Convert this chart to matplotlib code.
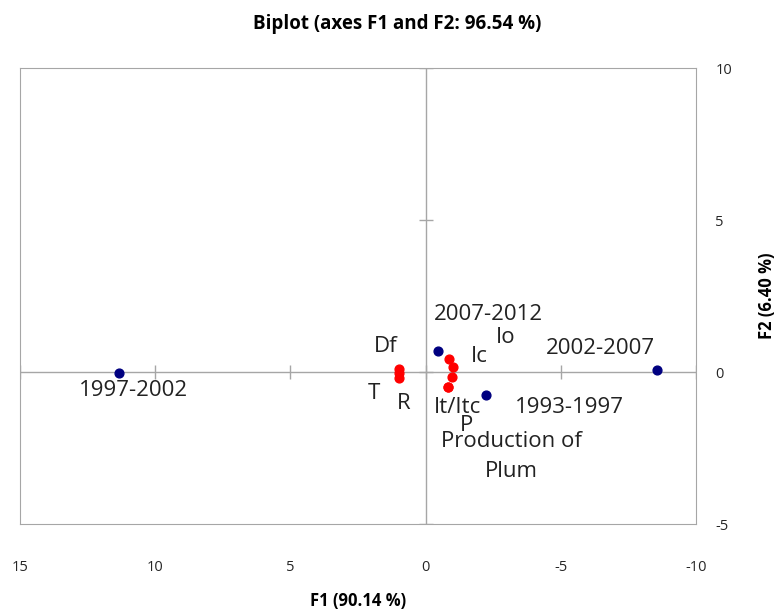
import matplotlib.pyplot as plt

# observações (anos) - pontos azuis
anos = ['1997-2002', '2007-2012', '2002-2007', '1993-1997']
anos_f1 = [11.34, -0.46, -8.56, -2.23]
anos_f2 = [-0.03, 0.69, 0.07, -0.76]

# variáveis - pontos vermelhos
variaveis = ['Df', 'T', 'R', 'Io', 'Ic', 'It/Itc', 'P', 'Production of\nPlum']
var_f1 = [0.98, 0.98, 0.98, -0.87, -1.0, -0.98, -0.82, -0.82]
var_f2 = [0.11, -0.02, -0.20, 0.44, 0.15, -0.17, -0.48, -0.48]

xticks = [15, 10, 5, 0, -5, -10]
yticks = [-5, 0, 5, 10]

# deslocamento dos rótulos (pixels)
desloc_anos = [(15, -18), (50, 37), (-57, 21), (84, -12)]
desloc_var = [(-13, 22), (-25, -21), (5, -25), (57, 21), (27, 11), (5, -30), (19, -39), (64, -70)]

plt.rcParams['font.family'] = ['Open Sans', 'DejaVu Sans']
cinza = '#a6a6a6'

fig = plt.figure(figsize=(7.76, 6.09), dpi=100)
ax = fig.add_axes([20 / 776, 85 / 609, 676 / 776, 456 / 609])

ax.set_xlim(15, -10)
ax.set_ylim(-5, 10)

ax.axhline(0, color=cinza, lw=1, zorder=1)
ax.axvline(0, color=cinza, lw=1, zorder=1)
ax.plot(xticks, [0] * len(xticks), ls='none', marker='|', ms=10, mew=1, color=cinza, zorder=1)
ax.plot([0] * len(yticks), yticks, ls='none', marker='_', ms=10, mew=1, color=cinza, zorder=1)

for s in ax.spines.values():
    s.set_color(cinza)

ax.scatter(anos_f1, anos_f2, s=40, color='#000080', zorder=3)
ax.scatter(var_f1, var_f2, s=40, color='#ff0000', zorder=3)

for nome, x, y, d in zip(anos, anos_f1, anos_f2, desloc_anos):
    ax.annotate(nome, (x, y), xytext=d, textcoords='offset pixels',
                ha='center', va='center', fontsize=16, color='#222222')
for nome, x, y, d in zip(variaveis, var_f1, var_f2, desloc_var):
    ax.annotate(nome, (x, y), xytext=d, textcoords='offset pixels',
                ha='center', va='center', fontsize=16, color='#222222', linespacing=1.55)

ax.set_xticks(xticks)
ax.set_xticklabels([str(t) for t in xticks])
ax.yaxis.tick_right()
ax.set_yticks(yticks)
ax.set_yticklabels([str(t) for t in yticks])
ax.tick_params(axis='x', length=0, pad=26, labelsize=10.5, colors='#262626')
ax.tick_params(axis='y', length=0, pad=14, labelsize=10.5, colors='#262626')

fig.text(397 / 776, 1 - 24 / 609, 'Biplot (axes F1 and F2: 96.54 %)', ha='center', va='center',
         fontsize=13.5, fontweight='bold')
fig.text(358 / 776, 1 - 601 / 609, 'F1 (90.14 %)', ha='center', va='center',
         fontsize=12, fontweight='bold')
fig.text(767 / 776, 1 - 296 / 609, 'F2 (6.40 %)', ha='center', va='center', rotation=90,
         fontsize=12, fontweight='bold')

plt.savefig('out.png', dpi=100)
